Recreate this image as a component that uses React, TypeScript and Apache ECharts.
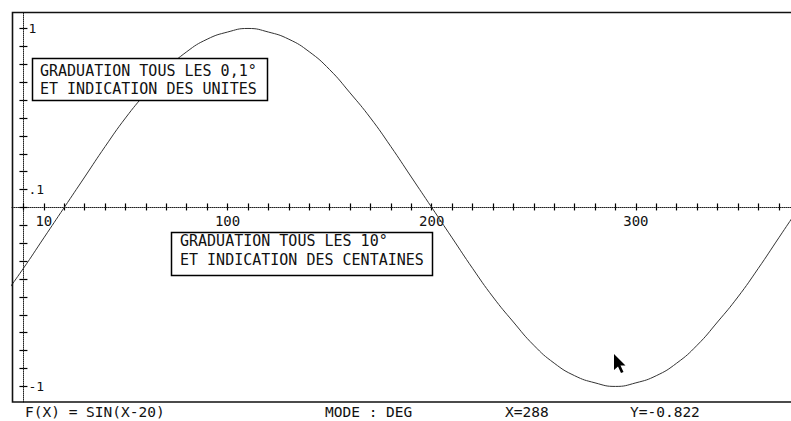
import React, { useEffect, useRef } from "react";
import * as echarts from "echarts";

// Curve: F(X) at every 10 degrees
const X_DEG = [-10, 0, 10, 20, 30, 40, 50, 60, 70, 80, 90, 100, 110, 120, 130, 140, 150, 160, 170, 180, 190, 200, 210, 220, 230, 240, 250, 260, 270, 280, 290, 300, 310, 320, 330, 340, 350, 360, 370, 380];
const Y_VALUES = [-0.5, -0.34, -0.17, 0, 0.17, 0.34, 0.5, 0.64, 0.77, 0.87, 0.94, 0.98, 1.0, 0.98, 0.94, 0.87, 0.77, 0.64, 0.5, 0.34, 0.17, 0, -0.17, -0.34, -0.5, -0.64, -0.77, -0.87, -0.94, -0.98, -1.0, -0.98, -0.94, -0.87, -0.77, -0.64, -0.5, -0.34, -0.17, 0];

const X_TICKS = [0, 10, 20, 30, 40, 50, 60, 70, 80, 90, 100, 110, 120, 130, 140, 150, 160, 170, 180, 190, 200, 210, 220, 230, 240, 250, 260, 270, 280, 290, 300, 310, 320, 330, 340, 350, 360, 370];
const X_LABELS = [10, 100, 200, 300];
const Y_TICKS = [-1, -0.9, -0.8, -0.7, -0.6, -0.5, -0.4, -0.3, -0.2, -0.1, 0, 0.1, 0.2, 0.3, 0.4, 0.5, 0.6, 0.7, 0.8, 0.9, 1];
const Y_LABELS = [1, 0.1, -1];
const Y_LABEL_TEXT = ["1", ".1", "-1"];

const BOX_UNITS = ["GRADUATION TOUS LES 0,1°", "ET INDICATION DES UNITES"];
const BOX_HUNDREDS = ["GRADUATION TOUS LES 10°", "ET INDICATION DES CENTAINES"];
const STATUS = ["F(X) = SIN(X-20)", "MODE : DEG", "X=288", "Y=-0.822"];

const MONO = '"DejaVu Sans Mono", monospace';

export default function App() {
  const ref = useRef<HTMLDivElement>(null);
  useEffect(() => {
    if (!ref.current) return;
    const chart = echarts.init(ref.current, undefined, { renderer: "svg" });
    const gLeft = 12;
    const gTop = 12;
    const gWidth = 779;
    const gHeight = 390;
    const xMin = -5.6;
    const xMax = 376;
    const yMin = -1.087;
    const yMax = 1.092;
    // pixel positions of the zero lines, from the axis scales
    const zeroX = gLeft + ((0 - xMin) / (xMax - xMin)) * gWidth;
    const zeroY = gTop + ((yMax - 0) / (yMax - yMin)) * gHeight;
    const tickStyle = { color: "#000", width: 1.2 };
    const labelText = (v: number) => {
      const i = Y_LABELS.findIndex((u) => Math.abs(u - v) < 1e-6);
      return i >= 0 ? Y_LABEL_TEXT[i] : "";
    };
    chart.setOption({
      animation: false,
      backgroundColor: "#fff",
      grid: { left: gLeft, top: gTop, width: gWidth, height: gHeight, containLabel: false, show: false },
      xAxis: [
        {
          type: "value",
          min: xMin,
          max: xMax,
          position: "bottom",
          offset: -(gTop + gHeight - zeroY),
          axisLine: { show: true, onZero: false, lineStyle: { color: "#222", type: "dotted", width: 1 } },
          axisTick: { show: true, length: 3, customValues: X_TICKS, lineStyle: tickStyle },
          axisLabel: {
            show: true,
            customValues: X_LABELS,
            margin: 7,
            color: "#111",
            fontFamily: MONO,
            fontSize: 14,
          },
          splitLine: { show: false },
        },
        {
          type: "value",
          min: xMin,
          max: xMax,
          position: "top",
          offset: -(zeroY - gTop),
          axisLine: { show: false, onZero: false },
          axisTick: { show: true, length: 4, customValues: X_TICKS, lineStyle: tickStyle },
          axisLabel: { show: false },
          splitLine: { show: false },
        },
      ],
      yAxis: [
        {
          type: "value",
          min: yMin,
          max: yMax,
          position: "left",
          offset: -(zeroX - gLeft),
          axisLine: { show: true, onZero: false, lineStyle: { color: "#222", type: "dotted", width: 1 } },
          axisTick: { show: true, length: 4, customValues: Y_TICKS, lineStyle: tickStyle },
          axisLabel: {
            show: true,
            inside: true,
            margin: 5,
            customValues: Y_LABELS,
            formatter: labelText,
            color: "#111",
            fontFamily: MONO,
            fontSize: 13,
          },
          splitLine: { show: false },
        },
        {
          type: "value",
          min: yMin,
          max: yMax,
          position: "right",
          offset: -(gLeft + gWidth - zeroX),
          axisLine: { show: false, onZero: false },
          axisTick: { show: true, length: 4, customValues: Y_TICKS, lineStyle: tickStyle },
          axisLabel: { show: false },
          splitLine: { show: false },
        },
      ],
      series: [
        {
          type: "line",
          xAxisIndex: 0,
          yAxisIndex: 0,
          data: X_DEG.map((x, i) => [x, Y_VALUES[i]]),
          smooth: true,
          showSymbol: false,
          clip: true,
          lineStyle: { color: "#333", width: 1 },
          z: 3,
        },
      ],
      graphic: [
        {
          type: "polyline",
          z: 50,
          silent: true,
          shape: { points: [[791, 12.5], [12.5, 12.5], [12.5, 402], [791, 402]] },
          style: { stroke: "#111", lineWidth: 1.6, fill: "none" },
        },
        {
          type: "rect",
          z: 60,
          shape: { x: 32.5, y: 58.5, width: 235, height: 42 },
          style: { fill: "#fff", stroke: "#000", lineWidth: 1.5 },
        },
        {
          type: "text",
          z: 61,
          style: { text: BOX_UNITS[0], x: 40, y: 71, fill: "#111", font: `15px ${MONO}`, verticalAlign: "middle" },
        },
        {
          type: "text",
          z: 61,
          style: { text: BOX_UNITS[1], x: 40, y: 89, fill: "#111", font: `15px ${MONO}`, verticalAlign: "middle" },
        },
        {
          type: "rect",
          z: 60,
          shape: { x: 171.5, y: 232.5, width: 261, height: 43 },
          style: { fill: "#fff", stroke: "#000", lineWidth: 1.5 },
        },
        {
          type: "text",
          z: 61,
          style: { text: BOX_HUNDREDS[0], x: 180, y: 241, fill: "#111", font: `15px ${MONO}`, verticalAlign: "middle" },
        },
        {
          type: "text",
          z: 61,
          style: { text: BOX_HUNDREDS[1], x: 180, y: 260, fill: "#111", font: `15px ${MONO}`, verticalAlign: "middle" },
        },
        {
          type: "text",
          z: 61,
          style: { text: STATUS[0], x: 25, y: 412, fill: "#111", font: `14.5px ${MONO}`, verticalAlign: "middle" },
        },
        {
          type: "text",
          z: 61,
          style: { text: STATUS[1], x: 325, y: 412, fill: "#111", font: `14.5px ${MONO}`, verticalAlign: "middle" },
        },
        {
          type: "text",
          z: 61,
          style: { text: STATUS[2], x: 505, y: 412, fill: "#111", font: `14.5px ${MONO}`, verticalAlign: "middle" },
        },
        {
          type: "text",
          z: 61,
          style: { text: STATUS[3], x: 630, y: 412, fill: "#111", font: `14.5px ${MONO}`, verticalAlign: "middle" },
        },
        {
          type: "polygon",
          z: 62,
          shape: {
            points: [[614, 354], [614, 370], [618, 366.5], [621, 373], [623.5, 372], [620.5, 365.5], [625.5, 365.5]],
          },
          style: { fill: "#000" },
        },
      ],
    });
    return () => chart.dispose();
  }, []);
  return (
    <div
      ref={ref}
      style={{ position: "fixed", left: 0, top: 0, width: 791, height: 421, background: "#fff" }}
    />
  );
}
